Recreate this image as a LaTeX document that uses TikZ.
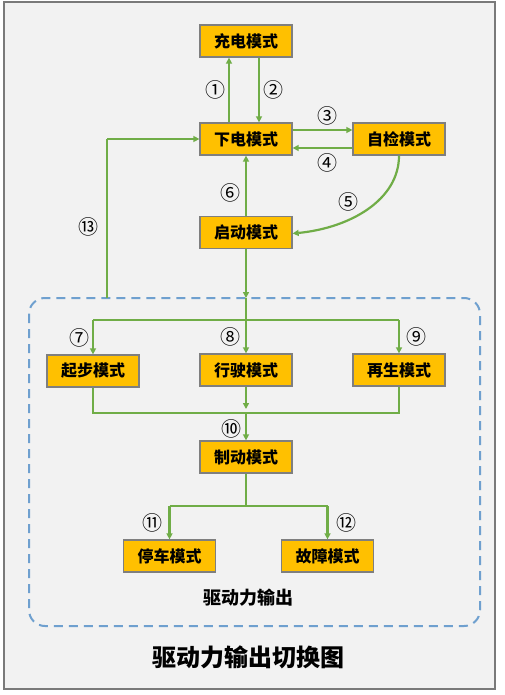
\documentclass[tikz,border=0pt]{standalone}
\usepackage{fontspec}
\setmainfont{Noto Sans CJK SC}
\usetikzlibrary{arrows.meta}
\definecolor{boxfill}{HTML}{FFC000}
\definecolor{boxline}{HTML}{7F7F7F}
\definecolor{arrowgreen}{HTML}{70AD47}
\definecolor{dashblue}{HTML}{6FA0CF}
\definecolor{bggray}{HTML}{F2F2F2}
\definecolor{framegray}{HTML}{7A7A7A}
\tikzset{
  modebox/.style={draw=boxline, line width=1.3pt, fill=boxfill, minimum width=92pt, minimum height=32pt, inner sep=0pt, font=\fontsize{16}{16}\selectfont\bfseries},
  flow/.style={draw=arrowgreen, line width=2.2pt},
  flowarrow/.style={flow, -{Triangle[length=6pt,width=6pt]}},
  numlabel/.style={font=\fontsize{20}{20}\selectfont, inner sep=0pt}
}
\begin{document}
\begin{tikzpicture}[x=1pt,y=-1pt]
\useasboundingbox (0,0) rectangle (505,695);
\fill[white] (0,0) rectangle (505,695);
\draw[framegray, line width=2pt, fill=bggray] (4,2) rectangle (495,689);
% dashed region
\draw[dashblue, line width=2pt, dash pattern=on 9pt off 6pt, rounded corners=16pt] (29,298) rectangle (480,626);
% boxes
\node[modebox] (chong) at (246,41) {充电模式};
\node[modebox] (xia) at (246,139) {下电模式};
\node[modebox] (zijian) at (399,139) {自检模式};
\node[modebox] (qidong) at (246,232.5) {启动模式};
\node[modebox] (qibu) at (93,371) {起步模式};
\node[modebox] (xingshi) at (246,370) {行驶模式};
\node[modebox] (zaisheng) at (399,370) {再生模式};
\node[modebox] (zhidong) at (246,457) {制动模式};
\node[modebox] (tingche) at (169.5,556) {停车模式};
\node[modebox] (guzhang) at (327.5,556) {故障模式};
% coordinates
\coordinate (c13) at (107,298);
\coordinate (c13b) at (107,139);
\coordinate (top) at (246,298);
\coordinate (split) at (246,320);
\coordinate (splitL) at (93,320);
\coordinate (splitR) at (399,320);
\coordinate (merge) at (246,413);
\coordinate (bsplit) at (246,506);
\coordinate (bsplitL) at (169.5,506);
\coordinate (bsplitR) at (327.5,506);
% arrows
\draw[flowarrow] ([xshift=-17pt]xia.north) -- ([xshift=-17pt]chong.south);
\draw[flowarrow] ([xshift=13pt]chong.south) -- ([xshift=13pt]xia.north);
\draw[flowarrow] ([yshift=9pt]xia.east) -- ([yshift=9pt]zijian.west);
\draw[flowarrow] ([yshift=-9pt]zijian.west) -- ([yshift=-9pt]xia.east);
\draw[flowarrow] (zijian.south) .. controls (399,200) and (350,228) .. ([yshift=-1pt]qidong.east);
\draw[flowarrow] (qidong.north) -- (xia.south);
\draw[flow] (c13) -- (c13b);
\draw[flowarrow] (c13b) -- (xia.west);
\draw[flowarrow] (qidong.south) -- (top);
\draw[flow] (top) -- (split);
\draw[flow] (splitL) -- (splitR);
\draw[flowarrow] (splitL) -- (qibu.north);
\draw[flowarrow] (split) -- (xingshi.north);
\draw[flowarrow] (splitR) -- (zaisheng.north);
\draw[flow] (qibu.south) |- (merge);
\draw[flow] (zaisheng.south) |- (merge);
\draw[flowarrow] (xingshi.south) -- ([yshift=4pt]merge);
\draw[flowarrow] (merge) -- (zhidong.north);
\draw[flow] (zhidong.south) -- (bsplit);
\draw[flow] (bsplitL) -- (bsplitR);
\draw[flowarrow] (bsplitL) -- (tingche.north);
\draw[flowarrow] (bsplitR) -- (guzhang.north);
% number labels
\node[numlabel] (n1) at (215,90) {①};
\node[numlabel] (n2) at (273,90) {②};
\node[numlabel] (n3) at (327,116) {③};
\node[numlabel] (n4) at (327,163) {④};
\node[numlabel] (n5) at (348,202) {⑤};
\node[numlabel] (n6) at (230,193) {⑥};
\node[numlabel] (n13) at (88,227) {⑬};
\node[numlabel] (n7) at (79,338) {⑦};
\node[numlabel] (n8) at (230,337) {⑧};
\node[numlabel] (n9) at (416,337) {⑨};
\node[numlabel] (n10) at (231,429) {⑩};
\node[numlabel] (n11) at (152,523) {⑪};
\node[numlabel] (n12) at (346,523) {⑫};
% texts
\node[font=\fontsize{18}{18}\selectfont\bfseries] (region) at (248,598) {驱动力输出};
\node[font=\fontsize{24}{24}\selectfont\bfseries] (title) at (248,657) {驱动力输出切换图};
\end{tikzpicture}
\end{document}
